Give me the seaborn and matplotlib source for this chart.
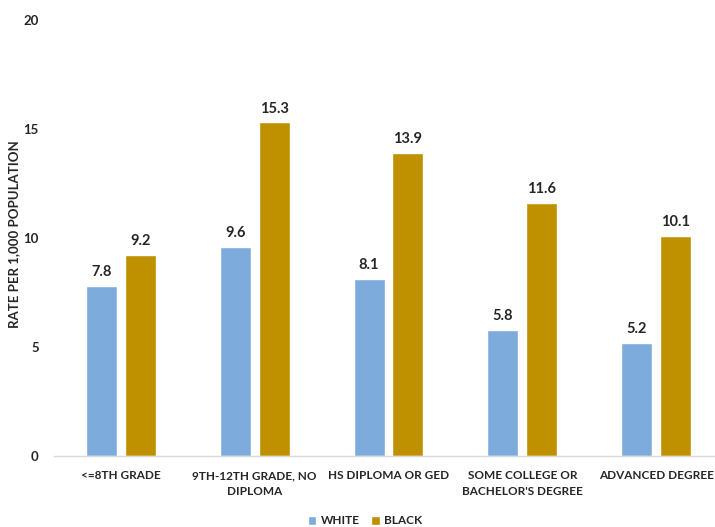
import matplotlib
matplotlib.use("Agg")
import matplotlib.pyplot as plt
import seaborn as sns
import pandas as pd
from matplotlib.patches import Patch

categories = ["<=8th grade", "9th-12th grade, no\ndiploma", "HS Diploma or GED",
              "Some college or\nBachelor's degree", "Advanced degree"]
white = [7.8, 9.6, 8.1, 5.8, 5.2]
black = [9.2, 15.3, 13.9, 11.6, 10.1]
series = ["White", "Black"]
colors = ["#7DACDC", "#BF9000"]
yticks = [0, 5, 10, 15, 20]

df = pd.DataFrame({
    "category": categories * 2,
    "race": ["White"] * 5 + ["Black"] * 5,
    "rate": white + black,
})

sns.set_theme(style="white")
plt.rcParams["font.family"] = ["Lato", "DejaVu Sans"]

fig = plt.figure(figsize=(7.15, 5.27), dpi=100)
ax = fig.add_axes([54 / 715, 71 / 527, 669 / 715, 436 / 527])

sns.barplot(data=df, x="category", y="rate", hue="race", order=categories,
            hue_order=series, palette=colors, width=0.58, gap=0.2,
            saturation=1, ax=ax, legend=False)

for cont in ax.containers:
    ax.bar_label(cont, fmt="%.1f", padding=5, fontsize=10.5, fontweight="bold",
                 color="#262626")

ax.set_ylim(0, 20)
ax.set_xlim(-0.5, 4.5)
ax.set_yticks(yticks)
ax.set_yticklabels([str(t) for t in yticks], fontsize=9.5, fontweight="bold",
                   color="#262626")
ax.set_xticks(range(len(categories)))
ax.set_xticklabels([c.upper() for c in categories], fontsize=8.5, fontweight="bold",
                   color="#262626", linespacing=1.6)
ax.tick_params(axis="y", length=0, pad=11)
ax.tick_params(axis="x", length=0, pad=10)
ax.set_xlabel("")
ax.set_ylabel("")
fig.text(14 / 715, 1 - 234 / 527, "Rate per 1,000 Population".upper(), rotation=90,
         ha="center", va="center", fontsize=9.5, fontweight="bold", color="#262626")
for s in ["top", "right", "left"]:
    ax.spines[s].set_visible(False)
ax.spines["bottom"].set_color("#D9D9D9")
ax.spines["bottom"].set_linewidth(1)
ax.grid(False)

handles = [Patch(facecolor=c, label=s.upper()) for s, c in zip(series, colors)]
fig.legend(handles=handles, loc="center", bbox_to_anchor=(365 / 715, 1 - 521 / 527),
           ncol=2, frameon=False, handlelength=0.7, handleheight=0.7,
           handletextpad=0.4, columnspacing=1.0,
           prop={"weight": "bold", "size": 8.5})

fig.savefig("out.png", dpi=100)
